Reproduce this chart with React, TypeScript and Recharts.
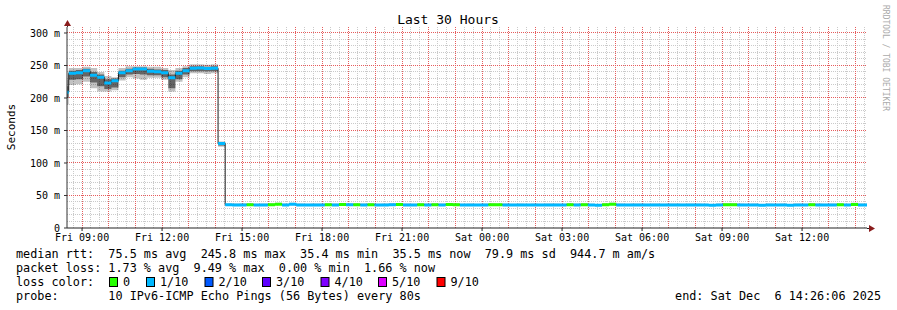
import React from 'react';
import { ComposedChart, Area, XAxis, YAxis, ReferenceLine } from 'recharts';

// ---- time frame (minutes since Fri 00:00) ----
const VIEW_START = 506.1; // Fri 08:26:06
const VIEW_END = 2306.1; // Sat 14:26:06
const FIRST_STEP_START = 494; // first (partial) consolidation step, Fri 08:14
const STEP_MIN = 16;

// ---- median RTT per 16-min step (ms) ----
const medianMs = [
  209,
  238, 239, 242, 235, 232, 223, 226.6, 239, 242, 244.6,
  244.6, 241, 240.5, 239, 231, 238, 242, 245.7, 246, 245.5,
  245.8, 130,
  35.6, 35.5, 35.5, 35.8, 35.4, 35.5, 35.9, 36.4, 35.5, 36.6,
  35.5, 35.4, 35.5, 35.5, 35.7, 35.5, 36.0, 35.6, 35.9, 35.5,
  35.8, 35.4, 35.5, 35.6, 36.2, 35.5, 35.4, 35.9, 35.5, 35.8,
  35.5, 36.0, 35.7, 35.4, 35.5, 35.4, 35.5, 35.8, 35.6, 35.5,
  35.4, 35.5, 35.4, 35.5, 35.4, 35.5, 35.5, 35.4, 35.8, 35.5,
  35.9, 35.3, 34.9, 35.8, 36.6, 35.5, 35.4, 35.5, 35.5, 35.4,
  35.5, 35.4, 35.5, 35.5, 35.4, 35.5, 35.5, 35.4, 34.9, 35.5,
  35.8, 35.9, 35.5, 35.4, 35.5, 34.9, 35.5, 35.4, 35.5, 34.9,
  35.5, 35.4, 35.8, 35.5, 35.4, 35.5, 35.9, 35.4, 36.3, 35.5, 35.5,
];

// ---- packet loss per step (tenths) ----
const lossTenths = [
  1,
  1, 1, 1, 1, 1, 1, 1, 1, 1, 1,
  1, 1, 1, 1, 1, 1, 1, 1, 1, 1,
  1, 1,
  1, 1, 1, 0, 1, 1, 0, 0, 1, 1,
  1, 1, 1, 1, 0, 1, 0, 1, 0, 1,
  0, 1, 1, 1, 0, 1, 1, 0, 1, 0,
  1, 0, 0, 1, 1, 1, 1, 0, 0, 1,
  1, 1, 1, 1, 1, 1, 1, 1, 0, 1,
  0, 1, 1, 0, 0, 1, 1, 1, 1, 1,
  1, 1, 1, 1, 1, 1, 1, 1, 1, 1,
  0, 0, 1, 1, 1, 1, 1, 1, 1, 1,
  1, 1, 0, 1, 1, 1, 0, 1, 0, 1, 1,
];

// ---- smoke (ping distribution) per step (ms) ----
const smokeMin = [
  190,
  220, 221, 225, 215, 210, 210, 212, 227, 232, 230,
  228, 231, 231, 228, 210, 225, 232, 238, 238, 237,
  238, 125,
  34.9, 34.9, 34.8, 35.0, 34.8, 34.9, 35.0, 35.2, 34.9, 35.3,
  34.9, 34.8, 34.9, 34.9, 35.0, 34.9, 35.1, 34.9, 35.0, 34.9,
  35.0, 34.8, 34.9, 34.9, 35.2, 34.9, 34.8, 35.0, 34.9, 35.0,
  34.9, 35.1, 35.0, 34.8, 34.9, 34.8, 34.9, 35.0, 34.9, 34.9,
  34.8, 34.9, 34.8, 34.9, 34.8, 34.9, 34.9, 34.8, 35.0, 34.9,
  35.0, 34.8, 34.5, 35.0, 35.3, 34.9, 34.8, 34.9, 34.9, 34.8,
  34.9, 34.8, 34.9, 34.9, 34.8, 34.9, 34.9, 34.8, 34.5, 34.9,
  35.0, 35.0, 34.9, 34.8, 34.9, 34.5, 34.9, 34.8, 34.9, 34.5,
  34.9, 34.8, 35.0, 34.9, 34.8, 34.9, 35.0, 34.8, 35.2, 34.9, 34.9,
];
const smokeMax = [
  228,
  246, 246, 248, 246, 240, 234, 232, 246, 249, 249,
  249, 248, 248, 246, 243, 246, 249, 252, 252, 251,
  252, 133,
  37.8, 37.6, 37.9, 38.1, 37.5, 37.7, 38.2, 38.9, 37.6, 39.0,
  37.7, 37.5, 37.8, 37.6, 38.0, 37.7, 38.4, 37.8, 38.2, 37.6,
  38.1, 37.5, 37.7, 37.9, 38.6, 37.6, 37.5, 38.2, 37.7, 38.0,
  37.6, 38.3, 38.0, 37.5, 37.7, 37.5, 37.6, 38.1, 37.8, 37.6,
  37.5, 37.7, 37.5, 37.6, 37.5, 37.7, 37.6, 37.5, 38.0, 37.7,
  38.2, 37.4, 37.0, 38.0, 38.9, 37.7, 37.5, 37.6, 37.7, 37.5,
  37.6, 37.5, 37.7, 37.6, 37.5, 37.7, 37.6, 37.5, 37.0, 37.6,
  38.0, 38.1, 37.7, 37.5, 37.6, 37.0, 37.7, 37.5, 37.6, 37.0,
  37.7, 37.5, 38.0, 37.6, 37.5, 37.7, 38.1, 37.5, 38.7, 37.6, 37.7,
];
const smokeLo = [
  200,
  228, 229, 233, 224, 218, 214, 216, 232, 236, 237,
  236, 235, 235, 232, 215, 229, 236, 241, 241, 241,
  241, 127,
  35.2, 35.1, 35.1, 35.4, 35.0, 35.1, 35.5, 35.9, 35.1, 36.1,
  35.1, 35.0, 35.1, 35.1, 35.3, 35.1, 35.6, 35.2, 35.5, 35.1,
  35.4, 35.0, 35.1, 35.2, 35.8, 35.1, 35.0, 35.5, 35.1, 35.4,
  35.1, 35.6, 35.3, 35.0, 35.1, 35.0, 35.1, 35.4, 35.2, 35.1,
  35.0, 35.1, 35.0, 35.1, 35.0, 35.1, 35.1, 35.0, 35.4, 35.1,
  35.5, 34.9, 34.6, 35.4, 36.1, 35.1, 35.0, 35.1, 35.1, 35.0,
  35.1, 35.0, 35.1, 35.1, 35.0, 35.1, 35.1, 35.0, 34.6, 35.1,
  35.4, 35.5, 35.1, 35.0, 35.1, 34.6, 35.1, 35.0, 35.1, 34.6,
  35.1, 35.0, 35.4, 35.1, 35.0, 35.1, 35.5, 35.0, 35.9, 35.1, 35.1,
];
const smokeHi = [
  218,
  242, 243, 245, 240, 236, 229, 230, 242, 245, 247,
  247, 245, 244, 243, 236, 242, 246, 249, 249, 248,
  249, 132,
  36.3, 36.1, 36.2, 36.5, 36.0, 36.1, 36.6, 37.2, 36.1, 37.4,
  36.1, 36.0, 36.2, 36.1, 36.4, 36.1, 36.7, 36.3, 36.6, 36.1,
  36.5, 36.0, 36.1, 36.3, 36.9, 36.1, 36.0, 36.6, 36.1, 36.5,
  36.1, 36.7, 36.4, 36.0, 36.1, 36.0, 36.1, 36.5, 36.3, 36.1,
  36.0, 36.1, 36.0, 36.1, 36.0, 36.1, 36.1, 36.0, 36.5, 36.1,
  36.6, 35.9, 35.5, 36.5, 37.3, 36.1, 36.0, 36.1, 36.1, 36.0,
  36.1, 36.0, 36.1, 36.1, 36.0, 36.1, 36.1, 36.0, 35.5, 36.1,
  36.5, 36.6, 36.1, 36.0, 36.1, 35.5, 36.1, 36.0, 36.1, 35.5,
  36.1, 36.0, 36.5, 36.1, 36.0, 36.1, 36.6, 36.0, 37.0, 36.1, 36.1,
];

// ---- loss colour legend ----
const lossLevels = [0, 1, 2, 3, 4, 5, 9];
const lossLabels = ['0', '1/10', '2/10', '3/10', '4/10', '5/10', '9/10'];
const lossColors = ['#26ff00', '#00b8ff', '#0059ff', '#5e00ff', '#7e00ff', '#dd00ff', '#ff0000'];

// ---- axis ticks ----
const xTickMinutes = [540, 720, 900, 1080, 1260, 1440, 1620, 1800, 1980, 2160];
const xTickLabels = ['Fri 09:00', 'Fri 12:00', 'Fri 15:00', 'Fri 18:00', 'Fri 21:00', 'Sat 00:00', 'Sat 03:00', 'Sat 06:00', 'Sat 09:00', 'Sat 12:00'];
const yTicks = [0, 0.05, 0.1, 0.15, 0.2, 0.25, 0.3];

// ---- legend text ----
const titleText = 'Last 30 Hours';
const yAxisTitle = 'Seconds';
const watermark = 'RRDTOOL / TOBI OETIKER';
const medianLine = 'median rtt:  75.5 ms avg  245.8 ms max  35.4 ms min  35.5 ms now  79.9 ms sd  944.7 m am/s';
const lossLine = 'packet loss: 1.73 % avg  9.49 % max  0.00 % min  1.66 % now';
const lossColorLabel = 'loss color:';
const probeLine = 'probe:       10 IPv6-ICMP Echo Pings (56 Bytes) every 80s';
const endLine = 'end: Sat Dec  6 14:26:06 2025';

// ---- style constants ----
const Y_MAX = 0.30923;
const BAND_HALF = 0.0023; // half-height of the coloured median band (s)
const FONT = '"DejaVu Sans Mono", monospace';
const MAJOR_GRID = '#e65c5c';
const MINOR_GRID = '#cacaca';
const legendSquareX = [109, 146, 204.5, 262, 320.5, 378, 436.5];

// grid positions (derived); minor sets skip the major positions
const minorXTicks: number[] = [];
for (let t = 520; t < VIEW_END; t += 20) if (t % 60 !== 0) minorXTicks.push(t);
const majorXTicks: number[] = [];
for (let t = 540; t < VIEW_END; t += 60) majorXTicks.push(t);
const minorYTicks: number[] = [];
for (let i = 1; i <= 30; i++) if (i % 5 !== 0) minorYTicks.push(i / 100);
const majorYTicks = yTicks.filter((v) => v > 0);

// ---- rows for the chart (each step drawn as two points) ----
const rows: any[] = [];
medianMs.forEach((m, i) => {
  const start = FIRST_STEP_START + i * STEP_MIN;
  const t0 = Math.max(start, VIEW_START);
  const t1 = Math.min(start + STEP_MIN, VIEW_END);
  if (t1 <= t0) return;
  [t0, t1].forEach((t) => {
    const med = m / 1000;
    const row: any = {
      t,
      med,
      outer: [smokeMin[i] / 1000, smokeMax[i] / 1000],
      inner: [smokeLo[i] / 1000, smokeHi[i] / 1000],
    };
    lossLevels.forEach((l) => {
      row['band' + l] = lossTenths[i] === l ? [med - BAND_HALF, med + BAND_HALF] : null;
    });
    rows.push(row);
  });
});

const xLabel = (v: number) => {
  const i = xTickMinutes.indexOf(v);
  return i >= 0 ? xTickLabels[i] : '';
};
const yLabel = (v: number) => (v === 0 ? '0' : `${Math.round(v * 1000)} m`);

const tickStyle = { fontFamily: FONT, fontSize: 10, fill: '#000' };

export default function App() {
  return (
    <div style={{ position: 'absolute', left: 0, top: 0, width: 897, height: 310, background: '#fff', overflow: 'hidden' }}>
      <ComposedChart width={897} height={310} data={rows} margin={{ top: 27, right: 30, bottom: 62, left: 0 }}>
        {minorXTicks.map((t) => (
          <ReferenceLine key={'nx' + t} xAxisId="main" yAxisId="main" x={t} stroke={MINOR_GRID} strokeDasharray="1 1" shapeRendering="crispEdges" zIndex={-60} />
        ))}
        {minorYTicks.map((v) => (
          <ReferenceLine key={'ny' + v} xAxisId="main" yAxisId="main" y={v} stroke={MINOR_GRID} strokeDasharray="1 1" shapeRendering="crispEdges" zIndex={-60} />
        ))}
        {majorXTicks.map((t) => (
          <ReferenceLine key={'mx' + t} xAxisId="main" yAxisId="main" x={t} stroke={MAJOR_GRID} strokeDasharray="1 1" shapeRendering="crispEdges" zIndex={-50} />
        ))}
        {majorYTicks.map((v) => (
          <ReferenceLine key={'my' + v} xAxisId="main" yAxisId="main" y={v} stroke={MAJOR_GRID} strokeDasharray="1 1" shapeRendering="crispEdges" zIndex={-50} />
        ))}
        <XAxis
          xAxisId="main"
          dataKey="t"
          type="number"
          domain={[VIEW_START, VIEW_END]}
          ticks={xTickMinutes}
          tickFormatter={xLabel}
          interval={0}
          allowDataOverflow
          height={20}
          tick={tickStyle}
          tickSize={3}
          tickMargin={3}
          axisLine={{ stroke: '#222' }}
          tickLine={{ stroke: '#222' }}
        />
        <YAxis
          yAxisId="main"
          type="number"
          domain={[0, Y_MAX]}
          ticks={yTicks}
          tickFormatter={yLabel}
          allowDataOverflow
          width={67}
          tick={tickStyle}
          tickSize={3}
          tickMargin={4}
          axisLine={{ stroke: '#333' }}
          tickLine={{ stroke: '#333' }}
        />
        <Area xAxisId="main" yAxisId="main" type="linear" dataKey="outer" stroke="none" fill="#000" fillOpacity={0.24} dot={false} activeDot={false} isAnimationActive={false} />
        <Area xAxisId="main" yAxisId="main" type="linear" dataKey="inner" stroke="none" fill="#000" fillOpacity={0.48} dot={false} activeDot={false} isAnimationActive={false} />
        <Area xAxisId="main" yAxisId="main" type="linear" dataKey="med" stroke="#202020" strokeWidth={1} fill="none" dot={false} activeDot={false} isAnimationActive={false} />
        {lossLevels.map((l, i) => (
          <Area
            key={l}
            xAxisId="main"
            yAxisId="main"
            type="linear"
            dataKey={'band' + l}
            stroke="none"
            fill={lossColors[i]}
            fillOpacity={1}
            dot={false}
            activeDot={false}
            isAnimationActive={false}
          />
        ))}
      </ComposedChart>
      <svg width={897} height={310} style={{ position: 'absolute', left: 0, top: 0, pointerEvents: 'none' }}>
        <text x={448} y={24} textAnchor="middle" fontFamily={FONT} fontSize={13} fill="#000">{titleText}</text>
        <text transform="translate(15,127) rotate(-90)" textAnchor="middle" fontFamily={FONT} fontSize={11} fill="#000">{yAxisTitle}</text>
        <text transform="translate(883,5) rotate(90)" textAnchor="start" fontFamily={FONT} fontSize={8} fill="#aaa">{watermark}</text>
        {/* axis extensions and arrows */}
        <line x1={67.5} y1={27} x2={67.5} y2={24} stroke="#333" />
        <polygon points="67.5,20 64,26 71,26" fill="#8a1c1c" />
        <line x1={867} y1={228.5} x2={870} y2={228.5} stroke="#222" />
        <polygon points="875,228.5 869,225 869,232" fill="#8a1c1c" />
        {/* legend */}
        <g fontFamily={FONT} fontSize={11.8} fill="#000">
          <text x={16} y={258} xmlSpace="preserve" style={{ whiteSpace: 'pre' }}>{medianLine}</text>
          <text x={16} y={272} xmlSpace="preserve" style={{ whiteSpace: 'pre' }}>{lossLine}</text>
          <text x={16} y={286} xmlSpace="preserve" style={{ whiteSpace: 'pre' }}>{lossColorLabel}</text>
          {lossLevels.map((l, i) => (
            <g key={l}>
              <rect x={legendSquareX[i] + 0.5} y={277.5} width={8} height={9} fill={lossColors[i]} stroke="#000" strokeWidth={1} />
              <text x={legendSquareX[i] + 14} y={286}>{lossLabels[i]}</text>
            </g>
          ))}
          <text x={16} y={300} xmlSpace="preserve" style={{ whiteSpace: 'pre' }}>{probeLine}</text>
          <text x={881} y={300} textAnchor="end" xmlSpace="preserve" style={{ whiteSpace: 'pre' }}>{endLine}</text>
        </g>
      </svg>
    </div>
  );
}
